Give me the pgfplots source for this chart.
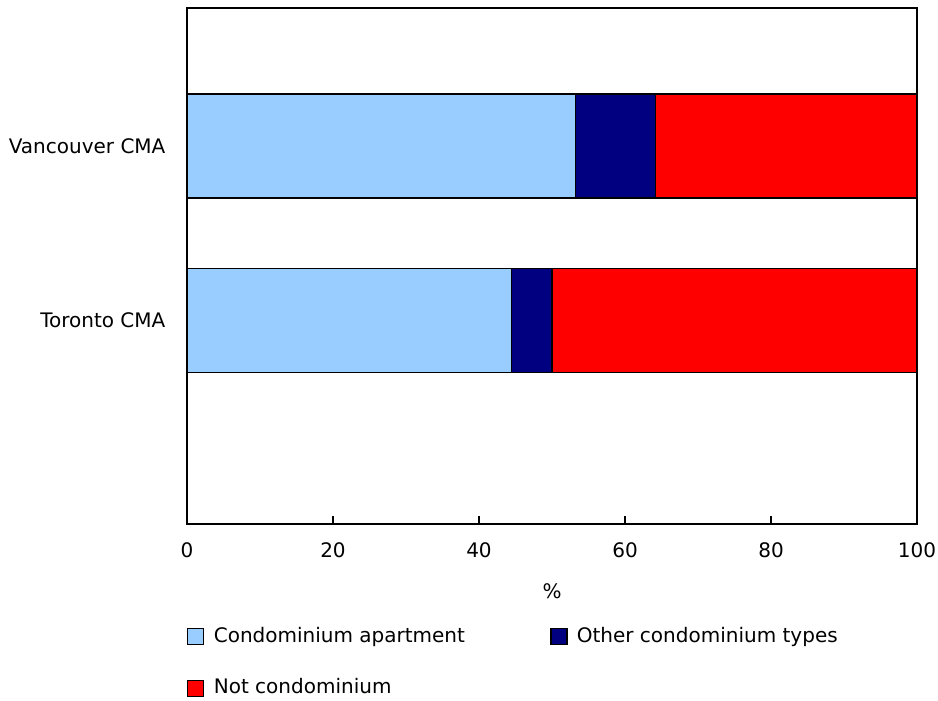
\documentclass[border=0pt]{standalone}
\usepackage{fontspec}
\setmainfont{DejaVu Sans}
\usepackage{pgfplots}
\pgfplotsset{compat=1.18}
\definecolor{cApt}{HTML}{99CCFF}
\definecolor{cOther}{HTML}{000080}
\definecolor{cNot}{HTML}{FF0000}
\begin{document}
\fontsize{15pt}{18pt}\selectfont
\begin{tikzpicture}
\useasboundingbox (0,0) rectangle (703.5pt,-525pt);
\begin{axis}[
  at={(140.25pt,-6pt)}, anchor=north west,
  scale only axis, width=547.5pt, height=387pt,
  xbar stacked, bar width=78pt,
  xmin=0, xmax=100, ymin=-1.172, ymax=1.793,
  ytick={0,1}, yticklabels={Toronto CMA, Vancouver CMA},
  ytick style={draw=none},
  xtick={0,20,40,60,80,100}, xtick pos=bottom,
  xtick align=inside, major tick length=6pt,
  tick style={black, line width=0.9pt},
  axis line style={line width=1.1pt},
  /pgf/number format/assume math mode=true,
  ticklabel style={font=\fontsize{15pt}{18pt}\selectfont},
  xticklabel style={yshift=-9pt},
  yticklabel style={xshift=-11pt},
  xlabel={\%}, xlabel style={yshift=-9pt},
  label style={font=\fontsize{15pt}{18pt}\selectfont},
  legend columns=2,
  legend style={draw=none, at={(0,0)}, anchor=north west, yshift=-73pt, xshift=-3pt,
    font=\fontsize{15pt}{18pt}\selectfont,
    cells={anchor=west},
    /tikz/every odd column/.append style={column sep=5pt},
    /tikz/every even column/.append style={column sep=62pt},
    row sep=21pt},
  legend image code/.code={\draw[#1, draw=black, line width=0.9pt] (0pt,-6.5pt) rectangle (12pt,5.5pt);},
]
\addplot[fill=cApt, draw=black, line width=0.8pt] coordinates {(44.4,0) (53.2,1)};
\addplot[fill=cOther, draw=black, line width=0.8pt] coordinates {(5.6,0) (11.0,1)};
\addplot[fill=cNot, draw=black, line width=0.8pt] coordinates {(50.0,0) (35.8,1)};
\legend{Condominium apartment, Other condominium types, Not condominium}
\end{axis}
\end{tikzpicture}
\end{document}
